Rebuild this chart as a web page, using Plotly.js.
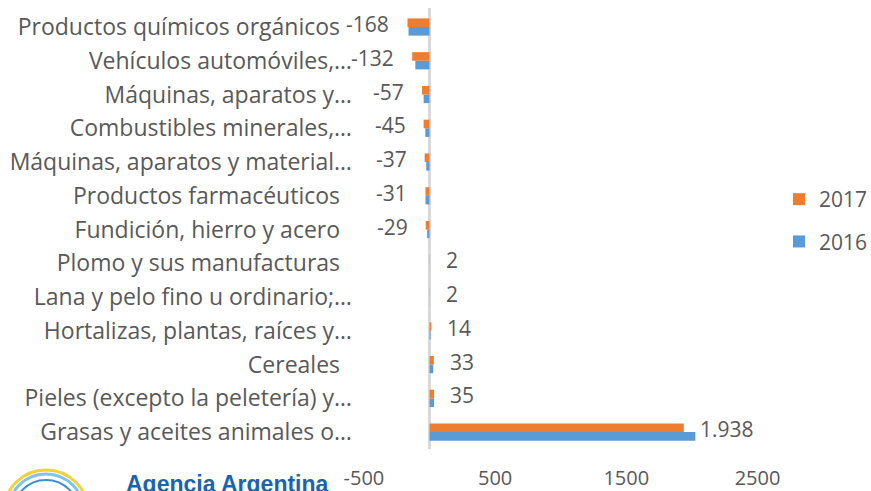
<!DOCTYPE html>
<html>
<head>
<meta charset="utf-8">
<script src="https://cdn.plot.ly/plotly-3.0.1.min.js"></script>
<style>html,body{margin:0;padding:0;background:#fff;}#chart{width:871px;height:491px;}</style>
</head>
<body>
<div id="chart"></div>
<script>
// Categories listed bottom to top
const categories = [
  "Grasas y aceites animales o…",
  "Pieles (excepto la peletería) y…",
  "Cereales\u00a0\u00a0",
  "Hortalizas, plantas, raíces y…",
  "Lana y pelo fino u ordinario;…",
  "Plomo y sus manufacturas\u00a0\u00a0",
  "Fundición, hierro y acero\u00a0\u00a0",
  "Productos farmacéuticos\u00a0\u00a0",
  "Máquinas, aparatos y material…",
  "Combustibles minerales,…",
  "Máquinas, aparatos y…",
  "Vehículos automóviles,…",
  "Productos químicos orgánicos\u00a0\u00a0"
];
const values2016 = [2026, 35, 28, 8, 1, 1, -18, -31, -25, -32, -45, -108, -160];
const values2017 = [1938, 35, 33, 14, 2, 2, -29, -31, -37, -45, -57, -132, -168];
const xTickVals = [-500, 500, 1500, 2500];
const xTickText = ["-500", "500", "1500", "2500"];
const xRange = [-568, 2519];

function fmt(v) {
  const s = Math.abs(v).toString().replace(/\B(?=(\d{3})+(?!\d))/g, ".");
  return (v < 0 ? "-" : "") + s;
}

const textColor = "#595959";
const fontFam = "'Open Sans', sans-serif";

const traces = [
  {
    type: "bar", orientation: "h", name: "2016",
    y: categories, x: values2016,
    marker: {color: "#5B9BD5"},
    legendgroup: "a", legendrank: 2,
    hoverinfo: "skip"
  },
  {
    type: "bar", orientation: "h", name: "2017",
    y: categories, x: values2017,
    marker: {color: "#ED7D31"},
    legendgroup: "b", legendrank: 1,
    hoverinfo: "skip"
  }
];

// pixel helpers for layout placement
const L = 355, R = 760, T = 8, B = 449;
const px = x => (x - L) / (R - L);
const py = y => (B - y) / (B - T);

// data labels for the 2017 series, placed through the axes' scales
const labelAnnotations = values2017.map((v, i) => ({
  x: v, y: categories[i], xref: "x", yref: "y",
  text: fmt(v), showarrow: false,
  xanchor: v < 0 ? "right" : "left",
  xshift: v < 0 ? -16 : 14, yshift: 3,
  font: {family: fontFam, size: 21, color: textColor}
}));

const layout = {
  width: 871, height: 491,
  margin: {l: L, r: 871 - R, t: T, b: 491 - B, pad: 0, autoexpand: false},
  paper_bgcolor: "#fff", plot_bgcolor: "#fff",
  barmode: "group", bargap: 0.49, bargroupgap: 0,
  font: {family: fontFam, color: textColor, size: 21},
  showlegend: true,
  legend: {
    x: px(779), y: py(179), xanchor: "left", yanchor: "top",
    traceorder: "grouped", tracegroupgap: 12,
    font: {family: fontFam, size: 21, color: textColor},
    bgcolor: "rgba(0,0,0,0)"
  },
  xaxis: {
    range: xRange,
    tickvals: xTickVals, ticktext: xTickText,
    showgrid: false, showline: false,
    ticks: "outside", ticklen: 11, tickcolor: "rgba(0,0,0,0)",
    zeroline: true, zerolinecolor: "#d9d9d9", zerolinewidth: 2.5,
    tickfont: {family: fontFam, size: 20, color: textColor},
    fixedrange: true
  },
  yaxis: {
    type: "category",
    showgrid: false, showline: false, ticks: "", zeroline: false,
    tickfont: {family: fontFam, size: 23, color: textColor},
    ticklabelstandoff: 2,
    automargin: false,
    fixedrange: true
  },
  shapes: [
    {type: "circle", xref: "paper", yref: "paper", x0: px(4), x1: px(88), y0: py(552), y1: py(470), line: {color: "#F2D13A", width: 3}},
    {type: "circle", xref: "paper", yref: "paper", x0: px(8), x1: px(84), y0: py(550), y1: py(474), line: {color: "#7CC4EA", width: 3}},
    {type: "circle", xref: "paper", yref: "paper", x0: px(13), x1: px(79), y0: py(546), y1: py(480), line: {color: "#3A8FD0", width: 2}}
  ],
  annotations: labelAnnotations.concat([
    {text: "<b>Agencia Argentina</b>", xref: "paper", yref: "paper", x: px(124), y: py(469),
     xanchor: "left", yanchor: "top", showarrow: false,
     font: {family: "'Liberation Sans', Arial, sans-serif", size: 23, color: "#1A63AE"}}
  ])
};

Plotly.newPlot("chart", traces, layout, {displayModeBar: false, staticPlot: true});
</script>
</body>
</html>
